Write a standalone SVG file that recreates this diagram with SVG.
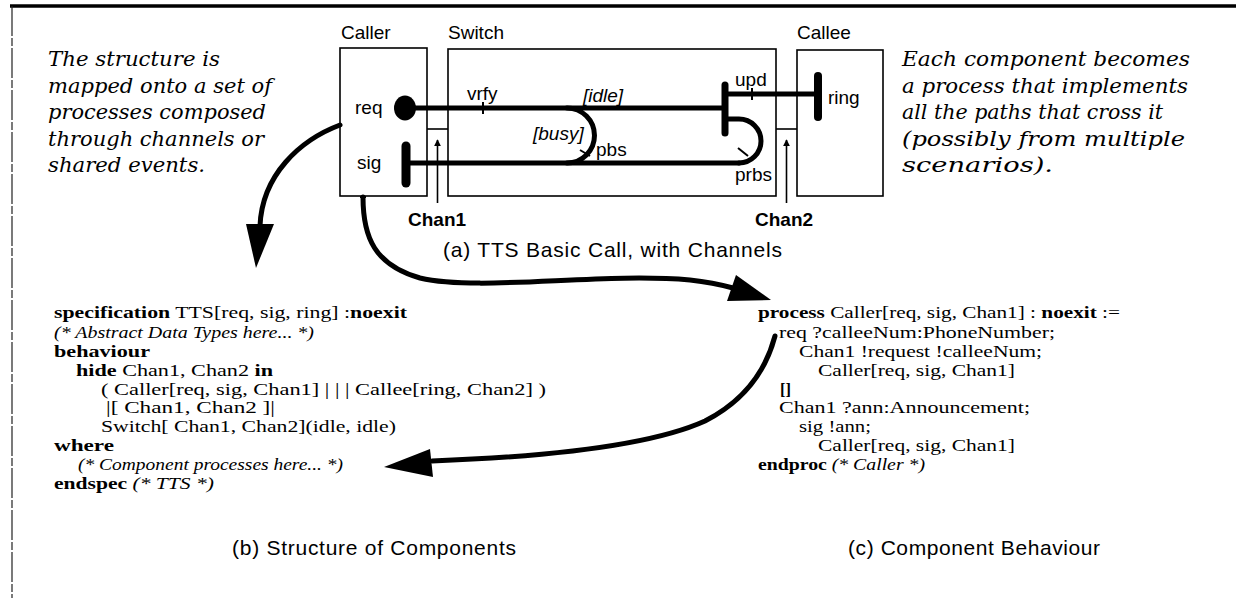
<svg xmlns="http://www.w3.org/2000/svg" width="1236" height="598" viewBox="0 0 1236 598">
<style>
.lbl{font-family:"Liberation Sans",Arial,sans-serif;font-size:19px;fill:#000}
.lb{font-weight:bold}
.cap{font-family:"Liberation Sans",Arial,sans-serif;font-size:21px;fill:#000}
.para{font-family:"DejaVu Serif","Liberation Serif",serif;font-style:italic;font-size:19.5px;fill:#000}
.code{font-family:"Liberation Serif","Times New Roman",serif;font-size:16.5px;fill:#000}
.b{font-weight:bold}
.i{font-style:italic}
.box{fill:none;stroke:#000;stroke-width:1.6}
.ucm{fill:none;stroke:#000;stroke-width:5;stroke-linecap:round}
.bar{stroke:#000;stroke-linecap:round}
.conn{fill:none;stroke:#000;stroke-width:5;stroke-linecap:round}
.thin{fill:none;stroke:#000;stroke-width:1.6}
.tick{stroke:#000;stroke-width:2}
</style>
<defs>
<marker id="sa" viewBox="0 0 10 10" refX="9" refY="5" markerWidth="7" markerHeight="9" orient="auto" markerUnits="userSpaceOnUse">
<path d="M0,0 L10,5 L0,10 z" fill="#000"/>
</marker>
</defs>
<rect width="1236" height="598" fill="#fff"/>
<!-- frame -->
<line x1="10" y1="6" x2="1236" y2="6" stroke="#000" stroke-width="3.5"/>
<line x1="12" y1="6" x2="12" y2="598" stroke="#222" stroke-width="1.2" stroke-dasharray="30 2 8 2"/>

<!-- component boxes -->
<g id="caller">
<rect class="box" x="340" y="48" width="87" height="148"/>
<text class="lbl" x="341" y="39">Caller</text>
<text class="lbl" x="355" y="114">req</text>
<text class="lbl" x="357" y="169">sig</text>
</g>
<g id="switch">
<rect class="box" x="448" y="49" width="328" height="147"/>
<text class="lbl" x="448" y="39">Switch</text>
</g>
<g id="callee">
<rect class="box" x="797" y="50" width="86" height="146"/>
<text class="lbl" x="797" y="39">Callee</text>
<text class="lbl" x="828" y="104">ring</text>
</g>
<g id="chan1">
<line class="thin" x1="427" y1="129" x2="448" y2="129"/>
<line class="thin" x1="437.5" y1="203" x2="437.5" y2="140" marker-end="url(#sa)"/>
<text class="lbl lb" x="408" y="226">Chan1</text>
</g>
<g id="chan2">
<line class="thin" x1="776" y1="129" x2="797" y2="129"/>
<line class="thin" x1="786.5" y1="203" x2="786.5" y2="140" marker-end="url(#sa)"/>
<text class="lbl lb" x="755" y="226">Chan2</text>
</g>

<!-- use case map paths -->
<g id="paths">
<ellipse cx="405" cy="108" rx="11" ry="12.5" fill="#000"/>
<path class="ucm" d="M405,108 H725"/>
<path class="ucm" d="M567,108 A27.5,27.5 0 0 1 567,163"/>
<path class="ucm" d="M408,163 H739"/>
<path class="ucm" d="M725,119 H739 A22,22 0 0 1 739,163"/>
<path class="ucm" d="M725,94 H818"/>
<line class="bar" x1="725" y1="85" x2="725" y2="133" stroke-width="7"/>
<line class="bar" x1="818" y1="76" x2="818" y2="117" stroke-width="8"/>
<line class="bar" x1="406" y1="146" x2="406" y2="183" stroke-width="9"/>
<line class="tick" x1="483" y1="102" x2="483" y2="114"/>
<line class="tick" x1="752" y1="88" x2="752" y2="100"/>
<line class="tick" x1="580" y1="150" x2="590" y2="156"/>
<line class="tick" x1="738" y1="148" x2="748" y2="156"/>
<line class="tick" x1="360" y1="197" x2="366" y2="197"/>
<text class="lbl" x="467" y="100">vrfy</text>
<text class="lbl i" x="583" y="102" font-size="18">[idle]</text>
<text class="lbl i" x="533" y="140" font-size="18">[busy]</text>
<text class="lbl" x="596" y="156">pbs</text>
<text class="lbl" x="735" y="86">upd</text>
<text class="lbl" x="735" y="181">prbs</text>
</g>

<text class="cap" x="443" y="257" textLength="339">(a) TTS Basic Call, with Channels</text>

<!-- paragraphs -->
<g id="note-left" class="para">
<text x="48" y="66" textLength="172" lengthAdjust="spacingAndGlyphs">The structure is</text>
<text x="48" y="92.5" textLength="224" lengthAdjust="spacingAndGlyphs">mapped onto a set of</text>
<text x="48" y="119" textLength="218" lengthAdjust="spacingAndGlyphs">processes composed</text>
<text x="48" y="145.5" textLength="216" lengthAdjust="spacingAndGlyphs">through channels or</text>
<text x="48" y="172" textLength="157" lengthAdjust="spacingAndGlyphs">shared events.</text>
</g>
<g id="note-right" class="para">
<text x="902" y="66" textLength="288" lengthAdjust="spacingAndGlyphs">Each component becomes</text>
<text x="902" y="92.5" textLength="286" lengthAdjust="spacingAndGlyphs">a process that implements</text>
<text x="902" y="119" textLength="261" lengthAdjust="spacingAndGlyphs">all the paths that cross it</text>
<text x="902" y="145.5" textLength="283" lengthAdjust="spacingAndGlyphs">(possibly from multiple</text>
<text x="902" y="172" textLength="151" lengthAdjust="spacingAndGlyphs">scenarios).</text>
</g>

<!-- structure of components -->
<g id="spec" class="code">
<text x="54" y="318" textLength="353" lengthAdjust="spacingAndGlyphs"><tspan class="b">specification</tspan> TTS[req, sig, ring] :<tspan class="b">noexit</tspan></text>
<text x="54" y="338" class="i" textLength="260" lengthAdjust="spacingAndGlyphs">(* Abstract Data Types here... *)</text>
<text x="54" y="357" class="b" textLength="96" lengthAdjust="spacingAndGlyphs">behaviour</text>
<text x="76" y="376" textLength="197" lengthAdjust="spacingAndGlyphs"><tspan class="b">hide</tspan> Chan1, Chan2 <tspan class="b">in</tspan></text>
<text x="101" y="395" textLength="445" lengthAdjust="spacingAndGlyphs">( Caller[req, sig, Chan1] | | | Callee[ring, Chan2] )</text>
<text x="106" y="413" textLength="169" lengthAdjust="spacingAndGlyphs">|[ Chan1, Chan2 ]|</text>
<text x="101" y="432" textLength="295" lengthAdjust="spacingAndGlyphs">Switch[ Chan1, Chan2](idle, idle)</text>
<text x="54" y="451" class="b" textLength="60" lengthAdjust="spacingAndGlyphs">where</text>
<text x="78" y="470" class="i" textLength="265" lengthAdjust="spacingAndGlyphs">(* Component processes here... *)</text>
<text x="54" y="489" textLength="160" lengthAdjust="spacingAndGlyphs"><tspan class="b">endspec</tspan> <tspan class="i">(* TTS *)</tspan></text>
</g>
<text class="cap" x="232" y="555" textLength="284">(b) Structure of Components</text>

<!-- component behaviour -->
<g id="proc" class="code">
<text x="758" y="318" textLength="362" lengthAdjust="spacingAndGlyphs"><tspan class="b">process</tspan> Caller[req, sig, Chan1] : <tspan class="b">noexit</tspan> :=</text>
<text x="779" y="338" textLength="276" lengthAdjust="spacingAndGlyphs">req ?calleeNum:PhoneNumber;</text>
<text x="799" y="357" textLength="243" lengthAdjust="spacingAndGlyphs">Chan1 !request !calleeNum;</text>
<text x="818" y="376" textLength="197" lengthAdjust="spacingAndGlyphs">Caller[req, sig, Chan1]</text>
<text x="780" y="395" class="b">[]</text>
<text x="779" y="413" textLength="251" lengthAdjust="spacingAndGlyphs">Chan1 ?ann:Announcement;</text>
<text x="799" y="432" textLength="72" lengthAdjust="spacingAndGlyphs">sig !ann;</text>
<text x="818" y="451" textLength="197" lengthAdjust="spacingAndGlyphs">Caller[req, sig, Chan1]</text>
<text x="758" y="470" textLength="167" lengthAdjust="spacingAndGlyphs"><tspan class="b">endproc</tspan> <tspan class="i">(* Caller *)</tspan></text>
</g>
<text class="cap" x="848" y="555" textLength="252">(c) Component Behaviour</text>

<!-- big connectors -->
<g id="connectors">
<path class="conn" d="M340,125 C300,140 262,175 260,226"/>
<polygon points="246,224 274,224 256,268" fill="#000"/>
<path class="conn" d="M363,197 C363,238 375,265 420,278 C480,292 600,272 690,280 C708,282 722,285 733,288"/>
<polygon points="771,300 736,275 727,301" fill="#000"/>
<path class="conn" d="M775,336 C766,370 746,400 705,421 C650,446 540,457 432,461"/>
<polygon points="384,467 430,449 433,477" fill="#000"/>
</g>
</svg>
